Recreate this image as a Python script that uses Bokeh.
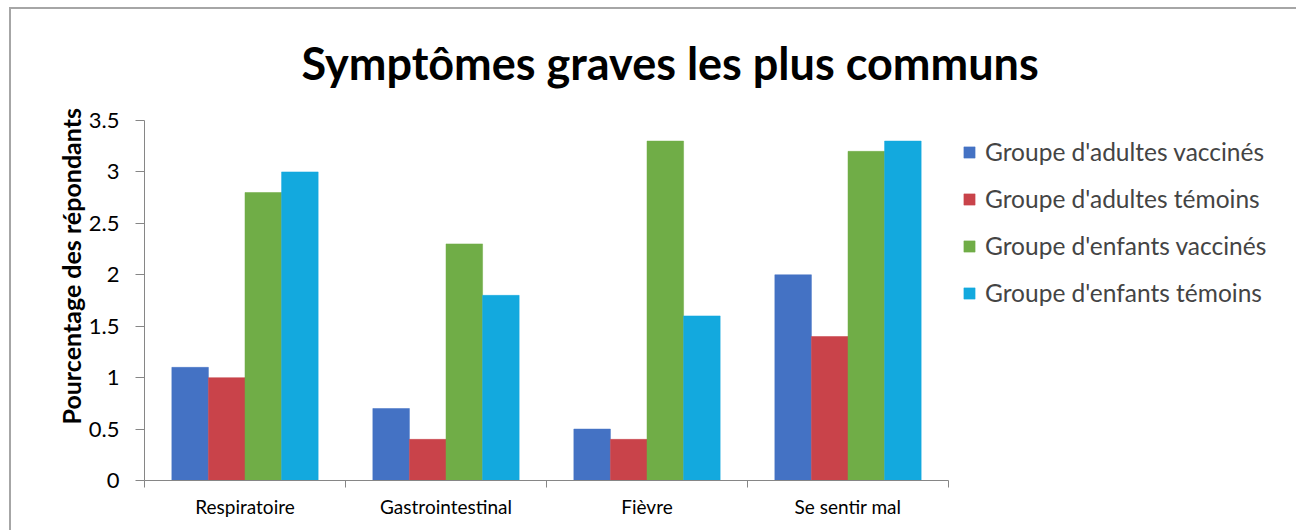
from bokeh.plotting import figure
from bokeh.models import (Range1d, FixedTicker, NumeralTickFormatter, Legend, LegendItem,
                          Title, ColumnDataSource)
from bokeh.embed import file_html
from bokeh.resources import INLINE

categories = ["Respiratoire", "Gastrointestinal", "Fièvre", "Se sentir mal"]
series_names = ["Groupe d'adultes vaccinés", "Groupe d'adultes témoins",
                "Groupe d'enfants vaccinés", "Groupe d'enfants témoins"]
adultes_vaccines = [1.1, 0.7, 0.5, 2.0]
adultes_temoins = [1.0, 0.4, 0.4, 1.4]
enfants_vaccines = [2.8, 2.3, 3.3, 3.2]
enfants_temoins = [3.0, 1.8, 1.6, 3.3]
series_values = [adultes_vaccines, adultes_temoins, enfants_vaccines, enfants_temoins]
colors = ["#4472C4", "#C9434A", "#70AD47", "#13A9DE"]
y_ticks = [0, 0.5, 1, 1.5, 2, 2.5, 3, 3.5]

FONT = "Lato"

W, H = 1296, 530
LEFT, RIGHT, TOP, BOTTOM = 144, 8, 120, 50
AXIS_PX = 804  # pixel length of the category axis
frame_w = W - LEFT - RIGHT
n_cat = len(categories)
x_end = n_cat * frame_w / AXIS_PX  # frame extends to the right to host the legend

p = figure(width=W, height=H, output_backend="svg", toolbar_location=None,
           x_range=Range1d(0, x_end), y_range=Range1d(0, 3.5),
           min_border_left=LEFT, min_border_right=RIGHT, min_border_top=TOP, min_border_bottom=BOTTOM)
p.border_fill_alpha = 0
p.styles = {
    "background": ("linear-gradient(#a6a6a6, #a6a6a6) 9px 7px / 100% 2px no-repeat, "
                   "linear-gradient(#a6a6a6, #a6a6a6) 9px 7px / 2px 100% no-repeat, #ffffff"),
}

p.title.text = "Symptômes graves les plus communs"
p.title.text_font = FONT
p.title.text_font_size = "45px"
p.title.text_font_style = "bold"
p.title.text_color = "#000000"
p.title.align = "left"
p.title.offset = 157
p.title.standoff = 62

p.grid.visible = False
p.outline_line_color = None

bw = 0.182
n = len(series_values)
renderers = []
for k, (vals, col) in enumerate(zip(series_values, colors)):
    xs = [i + 0.5 + (k - (n - 1) / 2) * bw for i in range(n_cat)]
    src = ColumnDataSource(dict(x=xs, top=vals))
    r = p.vbar(x="x", top="top", bottom=0, width=bw, source=src,
               fill_color=col, line_color=col, line_width=0.5)
    renderers.append(r)

# x axis
xa = p.xaxis[0]
xa.bounds = (0, n_cat)
xa.ticker = FixedTicker(ticks=[i + 0.5 for i in range(n_cat)],
                        minor_ticks=list(range(n_cat + 1)))
xa.major_label_overrides = {i + 0.5: c for i, c in enumerate(categories)}
xa.major_tick_out = 0
xa.major_tick_in = 0
xa.minor_tick_out = 7
xa.minor_tick_in = 0
xa.major_label_standoff = 7
xa.major_label_text_font = FONT
xa.major_label_text_font_size = "19px"
xa.major_label_text_color = "#000000"
xa.axis_line_color = "#868686"
xa.minor_tick_line_color = "#868686"

ya = p.yaxis[0]
ya.ticker = FixedTicker(ticks=y_ticks, minor_ticks=[])
ya.formatter = NumeralTickFormatter(format="0.[0]")
ya.major_tick_out = 9
ya.major_tick_in = 0
ya.major_label_standoff = 16
ya.major_label_text_font = FONT
ya.major_label_text_font_size = "22px"
ya.major_label_text_color = "#000000"
ya.axis_line_color = "#868686"
ya.major_tick_line_color = "#868686"

ytitle = Title(text="Pourcentage des répondants", align="left", offset=56, standoff=0,
               text_font=FONT, text_font_size="25px", text_font_style="bold",
               text_color="#000000")
p.add_layout(ytitle, "left")

legend = Legend(items=[LegendItem(label=nm, renderers=[r]) for nm, r in zip(series_names, renderers)],
                location=(818, 173), label_text_font=FONT, label_text_font_size="24.5px",
                glyph_width=14, glyph_height=14, spacing=18, label_standoff=9,
                border_line_color=None, background_fill_alpha=0, padding=0, margin=0)
p.add_layout(legend)

open("out.html", "w").write(file_html(p, INLINE))
